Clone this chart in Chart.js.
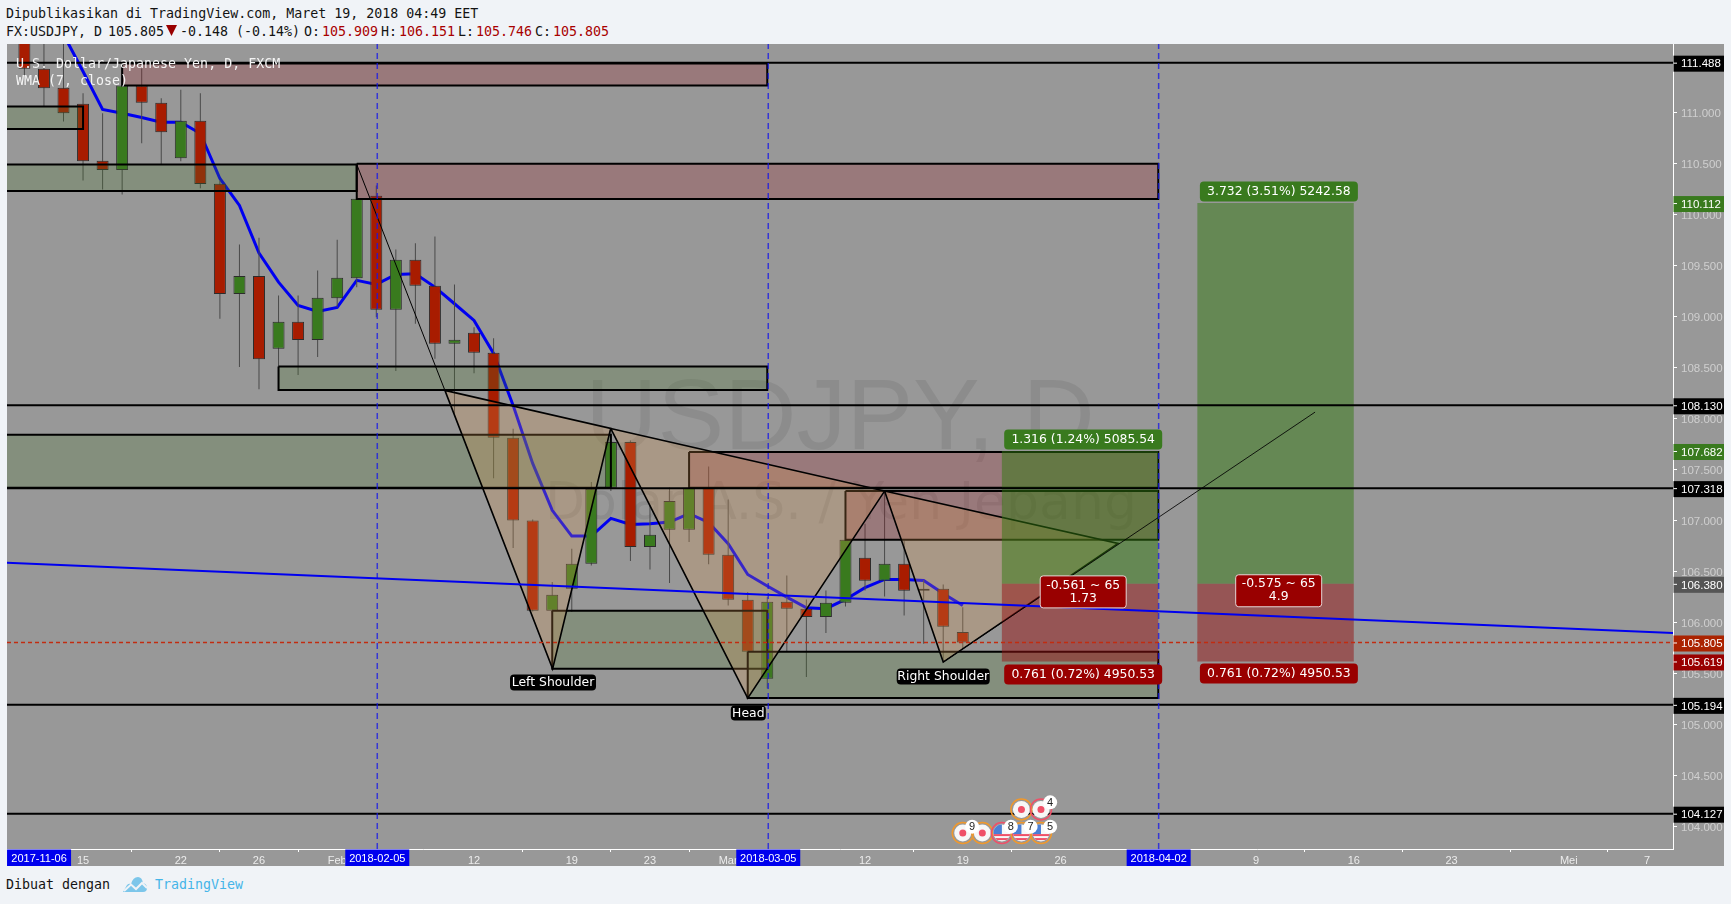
<!DOCTYPE html>
<html>
<head>
<meta charset="utf-8">
<title>USDJPY</title>
<script src="https://cdn.jsdelivr.net/npm/chart.js@4"></script>
<style>
html,body{margin:0;padding:0;background:#f0f3f7;width:1731px;height:904px;overflow:hidden}
#pane{position:absolute;left:7px;top:44px;width:1717px;height:822px;background:#989898}
#pane canvas{display:block}
.m{position:absolute;font:13.3px/18px "DejaVu Sans Mono",monospace;white-space:pre;color:#131313}
.r{color:#a80000}
.w{color:#f4f4f4;line-height:16px}
.b{color:#45b5e8}
</style>
</head>
<body>
<div class="m" style="left:6px;top:5px">Dipublikasikan di TradingView.com, Maret 19, 2018 04:49 EET</div>
<div class="m" style="left:6px;top:23px">FX:USDJPY, D</div>
<div class="m" style="left:108px;top:23px">105.805</div>
<svg style="position:absolute;left:166px;top:25px" width="12" height="11"><polygon points="0,0 11,0 5.5,11" fill="#990000"/></svg>
<div class="m" style="left:180px;top:23px">-0.148 (-0.14%)</div>
<div class="m" style="left:304px;top:23px">O:</div><div class="m r" style="left:322px;top:23px">105.909</div>
<div class="m" style="left:381px;top:23px">H:</div><div class="m r" style="left:399px;top:23px">106.151</div>
<div class="m" style="left:458px;top:23px">L:</div><div class="m r" style="left:476px;top:23px">105.746</div>
<div class="m" style="left:535px;top:23px">C:</div><div class="m r" style="left:553px;top:23px">105.805</div>
<div id="pane"><canvas id="c" width="1717" height="822"></canvas></div>
<div class="m w" style="left:16px;top:56px">U.S. Dollar/Japanese Yen, D, FXCM</div>
<div class="m w" style="left:16px;top:73px">WMA (7, close)</div>
<div class="m" style="left:6px;top:876px">Dibuat dengan</div>
<svg style="position:absolute;left:122px;top:876px" width="26" height="17"><path d="M1 16 L5 9 Q7 7 9 8 Q11 1 16 1 Q20 1 21 7 Q25 8 25 12 Q25 16 21 16 Z" fill="#7cc6ea"/><polyline points="2,15 9,8.5 14,13 20,7 25,12" fill="none" stroke="#f0f3f7" stroke-width="2"/></svg>
<div class="m b" style="left:155px;top:876px">TradingView</div>
<script>
// ---- candles: trading days, one per index
const categories = ['2018-01-10','2018-01-11','2018-01-12','2018-01-15','2018-01-16','2018-01-17','2018-01-18','2018-01-19','2018-01-22','2018-01-23','2018-01-24','2018-01-25','2018-01-26','2018-01-29','2018-01-30','2018-01-31','2018-02-01','2018-02-02','2018-02-05','2018-02-06','2018-02-07','2018-02-08','2018-02-09','2018-02-12','2018-02-13','2018-02-14','2018-02-15','2018-02-16','2018-02-19','2018-02-20','2018-02-21','2018-02-22','2018-02-23','2018-02-26','2018-02-27','2018-02-28','2018-03-01','2018-03-02','2018-03-05','2018-03-06','2018-03-07','2018-03-08','2018-03-09','2018-03-12','2018-03-13','2018-03-14','2018-03-15','2018-03-16','2018-03-19'];
const opens = [111.804,111.429,111.242,111.086,110.527,110.435,111.265,111.095,110.552,110.919,110.302,109.220,109.396,108.684,108.949,108.769,109.180,109.376,110.184,109.067,109.557,109.302,108.733,108.841,108.645,107.812,107.000,106.116,106.332,106.577,107.322,107.769,106.740,106.910,106.910,107.322,106.665,106.224,105.450,106.205,106.136,106.054,106.195,106.636,106.410,106.577,106.312,106.332,105.909];
const highs = [111.902,111.755,111.804,111.189,110.993,111.314,111.432,111.140,111.223,111.189,110.334,109.707,109.772,109.207,109.207,109.452,109.753,110.187,110.285,109.658,109.719,109.785,109.315,108.896,108.788,107.900,107.011,106.397,106.724,107.377,107.903,107.786,107.149,107.325,107.325,107.531,107.207,106.299,106.250,106.462,106.227,106.315,106.825,106.969,107.289,106.805,106.414,106.374,106.151];
const lows = [111.363,111.059,110.912,110.334,110.246,110.197,110.699,110.491,110.523,110.258,108.978,108.504,108.288,108.504,108.426,108.602,109.092,109.288,108.994,108.465,108.929,108.586,108.047,108.445,107.416,106.730,106.109,106.100,106.103,106.560,107.289,106.603,106.521,106.387,106.789,106.573,106.168,105.270,105.355,105.717,105.466,105.897,106.159,106.315,106.257,106.070,105.793,105.613,105.746];
const closes = [111.429,111.238,110.993,110.523,110.435,111.265,111.095,110.807,110.919,110.298,109.220,109.396,108.582,108.949,108.769,109.184,109.380,110.154,109.067,109.557,109.302,108.733,108.773,108.645,107.812,107.000,106.116,106.273,106.577,107.312,107.769,106.740,106.861,107.191,107.322,106.665,106.224,105.715,106.205,106.136,106.054,106.195,106.812,106.410,106.577,106.312,106.332,105.960,105.805];
const wma = [null,null,111.765,111.402,111.030,110.993,110.951,110.905,110.905,110.794,110.353,110.089,109.621,109.337,109.109,109.050,109.089,109.354,109.315,109.413,109.419,109.288,109.125,108.962,108.638,108.129,107.560,107.100,106.848,106.848,107.021,106.962,106.969,106.985,107.067,106.982,106.773,106.472,106.358,106.250,106.146,106.136,106.227,106.342,106.423,106.423,106.413,106.286,106.168];

// ---- scale ranges and ticks
const xRange = [-0.89, 84.33];
const yRange = [103.781, 111.671];
const priceTicks = [104,104.5,105,105.5,106,106.5,107,107.5,108,108.5,109,109.5,110,110.5,111];
const timeTickIndex = [3,8,12,16,23,28,32,36,43,48,53,63,68,73,79,83];
const timeTickLabels = ['15','22','26','Feb','12','19','23','Mar','12','19','26','9','16','23','Mei','7'];

// ---- drawings
const levels = [111.488,108.130,107.318,105.194,104.127];
const lastPrice = 105.805;
const verticals = [18.05,38.05,58.02];
const verticalTagAt = [0.75,18.05,38.05,58.02];
const verticalTags = ['2017-11-06','2018-02-05','2018-03-05','2018-04-02'];
const trendIdx = [-0.89,84.33];
const trendVal = [106.587,105.897];
const supplyZones = [[5,38,111.481,111.265],[17,58,110.497,110.152],[34,58,107.671,107.322],[42,58,107.289,106.812]];
const demandZones = [[-1.5,3,111.059,110.837],[-1.5,17,110.491,110.231],[13,38,108.511,108.279],[-1.5,30,107.841,107.322],[27,38,106.116,105.548],[37,58,105.715,105.260]];
const patternLead = [[17,110.491],[21.51,108.276]];
const patternTriangles = [
  [[21.51,108.276],[27.02,105.548],[29.99,107.903]],
  [[29.99,107.903],[37,105.260],[44,107.289]],
  [[44,107.289],[47,105.613],[55.94,106.776]]
];
const patternExit = [[47,105.613],[66.02,108.063]];
const toolSpans = [[50,58],[60,68]];
const toolTargets = [107.682,110.112];
const toolEntry = 106.380;
const toolStop = 105.619;

// ---- event markers
const eventIdx = [48,49,50,51,52,51,52];
const eventVal = [103.937,103.937,103.937,103.937,103.937,104.169,104.169];
const eventFlag = ['jp','jp','us','us','us','jp','jp'];
const eventRing = ['#f0982c','#f0982c','#ef5068','#f0982c','#f0982c','#f0982c','#ef5068'];
const badgeIdx = [48.48,50.46,51.47,52.47,52.47];
const badgeVal = [104.0,104.0,104.0,104.0,104.238];
const badgeText = ['9','8','7','5','4'];

// ---- labels on the chart
const textTags = [
 ['1.316 (1.24%) 5085.54',54.16,107.795,158,20,'#397a1e'],
 ['3.732 (3.51%) 5242.58',64.17,110.226,158,20,'#397a1e'],
 ['0.761 (0.72%) 4950.53',54.16,105.492,158,20,'#990000'],
 ['0.761 (0.72%) 4950.53',64.17,105.502,158,20,'#990000'],
 ['Left Shoulder',27.04,105.414,86,16,'#000'],
 ['Head',37.03,105.115,35,15,'#000'],
 ['Right Shoulder',47,105.472,93,16,'#000']
];
const ratioTags = [['-0.561 ~ 65','1.73',54.16,106.301],['-0.575 ~ 65','4.9',64.16,106.312]];
const axisTags = [
 [111.488,'#000'],[110.112,'#397a1e'],[108.130,'#000'],[107.682,'#397a1e'],[107.318,'#000'],
 [106.380,'#555'],[105.805,'#ab2300'],[105.619,'#990000'],[105.194,'#000'],[104.127,'#000']
];

const idx = categories.map((_,i)=>i);
const RED='#a81c00', GREEN='#397a1e';
const isUp = i => closes[i] >= opens[i];

function poly(pts,fill,stroke,w,order,extra){
  return Object.assign({type:'line',data:pts.map(p=>({x:p[0],y:p[1]})),borderColor:stroke,borderWidth:w,
    backgroundColor:fill,fill:fill?'shape':false,pointRadius:0,tension:0,order:order,borderJoinStyle:'miter'},extra||{});
}
function rect(x0,x1,t,b){return [[x0,t],[x1,t],[x1,b],[x0,b],[x0,t]];}

const datasets = [];
// wma below the candles
datasets.push({type:'line',data:idx.map(i=>({x:i,y:wma[i]})),borderColor:'#0000f0',borderWidth:3,pointRadius:0,tension:0,order:110,spanGaps:false,fill:false});
datasets.push({type:'bar',data:idx.map(i=>({x:i,y:[lows[i],highs[i]]})),barThickness:1,backgroundColor:'#4a4a4a',grouped:false,order:105,inflateAmount:0});
datasets.push({type:'bar',data:idx.map(i=>({x:i,y:[Math.min(opens[i],closes[i]),Math.max(opens[i],closes[i])]})),barThickness:12,
  backgroundColor:idx.map(i=>isUp(i)?GREEN:RED),borderColor:'#2c2c2c',borderWidth:1,borderSkipped:false,grouped:false,order:100,inflateAmount:0});
let ord=95;
demandZones.forEach(z=>datasets.push(poly(rect(z[0],z[1],z[2],z[3]),'rgba(73,117,45,.25)','#000',2,ord--)));
supplyZones.forEach(z=>datasets.push(poly(rect(z[0],z[1],z[2],z[3]),'rgba(157,29,37,.25)','#000',2,ord--)));
datasets.push(poly(patternLead,null,'#000',1,ord--));
patternTriangles.forEach(t=>datasets.push(poly([t[0],t[1],t[2],t[0]],'rgba(221,153,81,.25)','#000',1.6,ord--)));
toolSpans.forEach((s,k)=>{
  datasets.push(poly(rect(s[0],s[1],toolTargets[k],toolEntry),'rgba(50,120,15,.5)','rgba(0,0,0,0)',0,ord--));
  datasets.push(poly(rect(s[0],s[1],toolEntry,toolStop),'rgba(147,17,17,.5)','rgba(0,0,0,0)',0,ord--));
});
datasets.push(poly(patternExit,null,'rgba(0,0,0,.85)',1,ord--));
levels.forEach(v=>datasets.push(poly([[xRange[0],v],[xRange[1],v]],null,'#000',2,ord--)));
datasets.push(poly([[xRange[0],lastPrice],[xRange[1],lastPrice]],null,'#c22c10',1.5,ord--,{borderDash:[4,3]}));
verticals.forEach(x=>datasets.push(poly([[x,yRange[0]],[x,yRange[1]]],null,'rgba(20,20,235,.75)',1.5,ord--,{borderDash:[6,4]})));
datasets.push(poly(trendIdx.map((x,k)=>[x,trendVal[k]]),null,'#0000f0',2,ord--));

const watermark = {
  id:'watermark',
  beforeDatasetsDraw(chart){
    const c=chart.ctx,a=chart.chartArea;
    c.save();c.fillStyle='rgba(0,0,0,.08)';c.textAlign='center';c.textBaseline='alphabetic';
    c.font='100px "Liberation Sans",Arial,sans-serif';
    c.fillText('USDJPY, D',(a.left+a.right)/2,405);
    c.font='52px "DejaVu Sans",sans-serif';
    c.fillText('Dolar A.S. / Yen Jepang',(a.left+a.right)/2+1,475);
    c.restore();
  }
};
function rr(c,x,y,w,h,r){c.beginPath();c.roundRect(x,y,w,h,r);}
const overlay = {
  id:'overlay',
  afterDraw(chart){
    const c=chart.ctx,X=chart.scales.x,Y=chart.scales.y,a=chart.chartArea;
    c.save();
    c.textAlign='center';c.textBaseline='middle';
    // text tags
    c.font='12.4px "DejaVu Sans",sans-serif';
    textTags.forEach(t=>{
      const px=X.getPixelForValue(t[1]),py=Y.getPixelForValue(t[2]);
      c.fillStyle=t[5];rr(c,px-t[3]/2,py-t[4]/2,t[3],t[4],4);c.fill();
      c.fillStyle='#fff';c.fillText(t[0],px,py+0.5);
    });
    ratioTags.forEach(t=>{
      const px=X.getPixelForValue(t[2]),py=Y.getPixelForValue(t[3]);
      c.fillStyle='#990000';c.strokeStyle='#e6d6d6';c.lineWidth=1;
      rr(c,px-43,py-16,86,32,3);c.fill();c.stroke();
      c.fillStyle='#fff';c.fillText(t[0],px,py-6.5);c.fillText(t[1],px,py+6.5);
    });
    // event markers
    eventIdx.forEach((e,k)=>{
      const px=X.getPixelForValue(e),py=Y.getPixelForValue(eventVal[k]);
      c.beginPath();c.arc(px,py,10.5,0,Math.PI*2);c.strokeStyle=eventRing[k];c.lineWidth=1.5;c.stroke();
      c.beginPath();c.arc(px,py,8.5,0,Math.PI*2);c.fillStyle='#f7f7f7';c.fill();
      if(eventFlag[k]==='jp'){
        c.beginPath();c.arc(px,py,3.5,0,Math.PI*2);c.fillStyle='#ef5068';c.fill();
      }else{
        c.save();c.beginPath();c.arc(px,py,8.5,0,Math.PI*2);c.clip();
        c.fillStyle='#ef5068';c.fillRect(px-9,py+1,18,2);c.fillRect(px-9,py+5,18,2);
        c.fillStyle='#4a7fd6';c.fillRect(px-9,py-9,9,10);
        c.restore();
      }
    });
    c.font='11px "Liberation Sans",Arial,sans-serif';
    badgeIdx.forEach((e,k)=>{
      const px=X.getPixelForValue(e),py=Y.getPixelForValue(badgeVal[k]);
      c.beginPath();c.arc(px,py,7,0,Math.PI*2);c.fillStyle='#fff';c.fill();
      c.fillStyle='#222';c.fillText(badgeText[k],px,py+0.5);
    });
    // vertical line date tags on the time axis
    verticalTags.forEach((t,k)=>{
      const px=X.getPixelForValue(verticalTagAt[k]);
      c.fillStyle='#0000ee';c.fillRect(px-32,a.bottom+0.5,64,17);
      c.fillStyle='#fff';c.fillText(t,px,a.bottom+10);
    });
    // price tags on the price axis
    c.textAlign='left';
    c.font='11.5px "Liberation Sans",Arial,sans-serif';
    axisTags.forEach(t=>{
      const py=Y.getPixelForValue(t[0]);
      c.fillStyle=t[1];c.fillRect(a.right+0.5,py-7,51,16);
      c.strokeStyle='#fff';c.lineWidth=1;c.beginPath();c.moveTo(a.right+0.5,py+0.5);c.lineTo(a.right+4,py+0.5);c.stroke();
      c.fillStyle='#fff';c.fillText(t[0].toFixed(3),a.right+8,py+1.5);
    });
    c.restore();
  }
};

new Chart(document.getElementById('c'),{
  type:'bar',
  data:{datasets},
  plugins:[watermark,overlay],
  options:{
    responsive:false,animation:false,
    layout:{padding:0},
    plugins:{legend:{display:false},tooltip:{enabled:false},title:{display:false}},
    events:[],
    scales:{
      x:{type:'linear',position:'bottom',min:xRange[0],max:xRange[1],offset:false,
        grid:{drawOnChartArea:false,drawTicks:true,tickLength:3,tickColor:'#fff'},
        border:{color:'#fff',width:1},
        afterBuildTicks(s){s.ticks=timeTickIndex.map(v=>({value:v}));},
        afterFit(s){s.height=17;s.paddingLeft=0;s.paddingRight=0;},
        ticks:{autoSkip:false,maxRotation:0,padding:2,color:'#ececec',font:{family:'"Liberation Sans",Arial,sans-serif',size:11},
          callback(v){const k=timeTickIndex.indexOf(v);return k<0?'':timeTickLabels[k];}}
      },
      y:{type:'linear',position:'right',min:yRange[0],max:yRange[1],
        grid:{drawOnChartArea:false,drawTicks:true,tickLength:4,tickColor:'#fff'},
        border:{color:'#fff',width:1},
        afterBuildTicks(s){s.ticks=priceTicks.map(v=>({value:v}));},
        afterFit(s){s.width=51;s.paddingTop=0;s.paddingBottom=0;},
        ticks:{autoSkip:false,padding:4,labelOffset:1.5,color:'#cfcfcf',font:{family:'"Liberation Sans",Arial,sans-serif',size:11.5},
          callback(v){return Number(v).toFixed(3);}}
      }
    }
  }
});
</script>
</body>
</html>
